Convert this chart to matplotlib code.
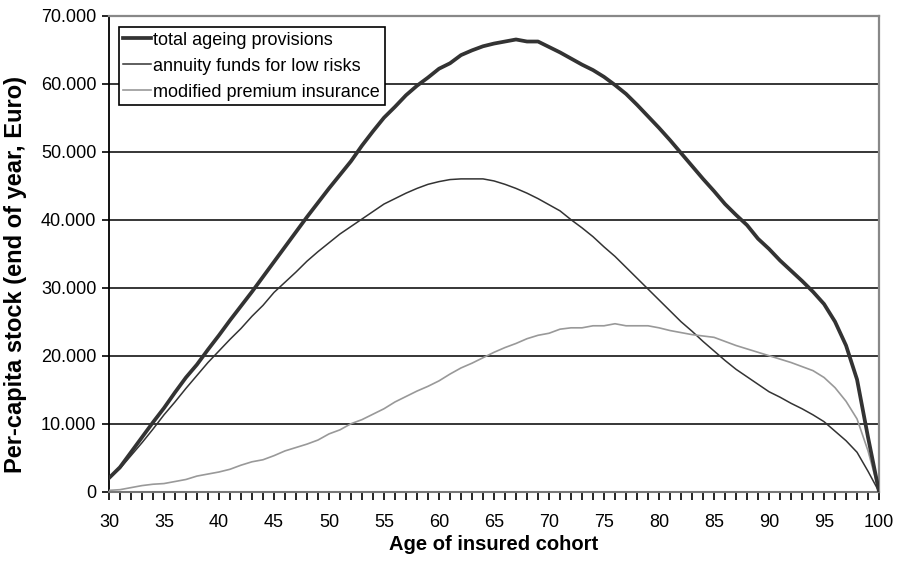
import numpy as np
import matplotlib
matplotlib.use("Agg")
import matplotlib.pyplot as plt
from matplotlib.ticker import FuncFormatter, MultipleLocator

plt.rcParams['font.family'] = ['Liberation Sans', 'DejaVu Sans']

ages = list(range(30, 101))

# total ageing provisions
total = [2000, 3600, 5800, 8000, 10200, 12300, 14600, 16800, 18700, 20900,
         23000, 25200, 27300, 29400, 31600, 33800, 36000, 38200, 40400, 42500,
         44600, 46600, 48600, 50900, 53000, 55000, 56600, 58300, 59700, 60900,
         62200, 63000, 64200, 64900, 65500, 65900, 66200, 66500, 66200, 66200,
         65400, 64600, 63700, 62800, 62000, 61000, 59800, 58500, 56900, 55200,
         53500, 51700, 49800, 47900, 46000, 44200, 42300, 40700, 39200, 37200,
         35700, 34000, 32500, 31000, 29400, 27600, 25000, 21500, 16500, 8000, 0]

# annuity funds for low risks
annuity = [2000, 3400, 5300, 7200, 9200, 11300, 13200, 15200, 17100, 19000,
           20700, 22400, 24000, 25800, 27400, 29300, 30800, 32300, 33900, 35300,
           36600, 37900, 39000, 40100, 41200, 42300, 43100, 43900, 44600, 45200,
           45600, 45900, 46000, 46000, 46000, 45700, 45200, 44600, 43900, 43100,
           42200, 41300, 40000, 38800, 37500, 36000, 34600, 33000, 31400, 29800,
           28200, 26600, 25000, 23600, 22100, 20700, 19300, 18000, 16900, 15800,
           14700, 13900, 13000, 12200, 11300, 10300, 8900, 7500, 5800, 3000, 0]

# modified premium insurance
modified = [200, 300, 600, 900, 1100, 1200, 1500, 1800, 2300, 2600,
            2900, 3300, 3900, 4400, 4700, 5300, 6000, 6500, 7000, 7600,
            8500, 9100, 10000, 10600, 11400, 12200, 13200, 14000, 14800, 15500,
            16300, 17300, 18200, 18900, 19700, 20500, 21200, 21800, 22500, 23000,
            23300, 23900, 24100, 24100, 24400, 24400, 24700, 24400, 24400, 24400,
            24100, 23700, 23400, 23100, 22900, 22700, 22100, 21500, 21000, 20500,
            20000, 19500, 19000, 18400, 17800, 16800, 15300, 13300, 10700, 6000, 0]

fig = plt.figure(figsize=(8.99, 5.68), dpi=100)
ax = fig.add_axes([0.1212, 0.1343, 0.8566, 0.8381])

ax.plot(ages, total, color='#333333', linewidth=2.7, label='total ageing provisions', zorder=4)
ax.plot(ages, annuity, color='#333333', linewidth=1.1, label='annuity funds for low risks', zorder=3)
ax.plot(ages, modified, color='#999999', linewidth=1.2, label='modified premium insurance', zorder=3)

ax.set_xlim(30, 100)
ax.set_ylim(0, 70000)
ax.xaxis.set_major_locator(MultipleLocator(5))
ax.xaxis.set_minor_locator(MultipleLocator(1))
ax.yaxis.set_major_locator(MultipleLocator(10000))
ax.yaxis.set_major_formatter(FuncFormatter(lambda v, p: '0' if v == 0 else f'{int(v):,}'.replace(',', '.')))

ax.grid(axis='y', color='black', linewidth=1.1, zorder=1)
ax.set_axisbelow(True)

ax.tick_params(axis='both', which='both', direction='out', colors='black', labelsize=13)
ax.tick_params(axis='x', which='major', length=6, width=1.2, pad=10)
ax.tick_params(axis='x', which='minor', length=6, width=1.2)
ax.tick_params(axis='y', length=5, width=1.2, pad=4)

ax.spines['left'].set_color('black')
ax.spines['left'].set_linewidth(1.3)
ax.spines['bottom'].set_color('#777777')
ax.spines['bottom'].set_linewidth(1.5)
ax.spines['top'].set_color('#888888')
ax.spines['top'].set_linewidth(1.6)
ax.spines['right'].set_color('#888888')
ax.spines['right'].set_linewidth(1.6)

ax.set_xlabel('Age of insured cohort', fontsize=14.5, fontweight='bold', labelpad=3)
ax.set_ylabel('Per-capita stock (end of year, Euro)', fontsize=17, fontweight='bold')
ax.yaxis.set_label_coords(-0.1065, 0.457)

leg = ax.legend(loc='upper left', bbox_to_anchor=(0.013, 0.976), fontsize=13,
                frameon=True, fancybox=False, edgecolor='black', framealpha=1,
                borderpad=0.25, labelspacing=0.5, handlelength=1.5, handletextpad=0.15,
                borderaxespad=0)
leg.get_frame().set_linewidth(1.2)

fig.savefig('out.png', dpi=100)
